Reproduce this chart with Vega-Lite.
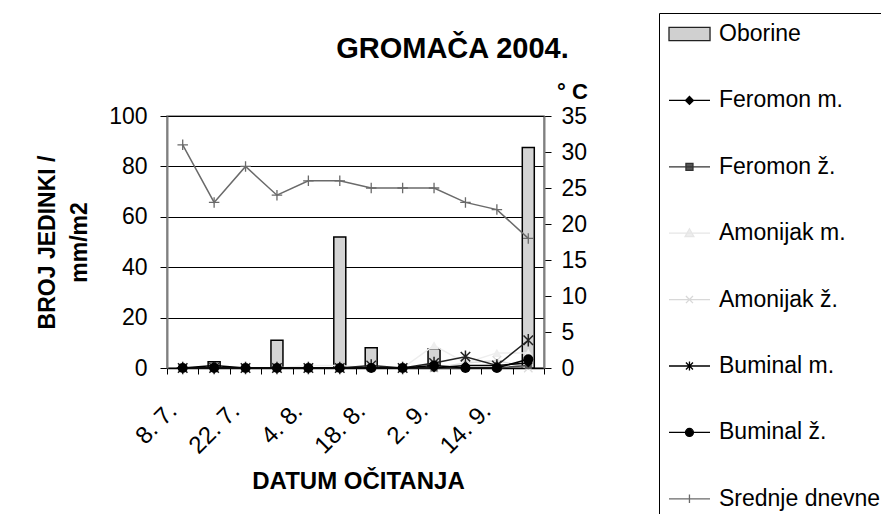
{
  "$schema": "https://vega.github.io/schema/vega-lite/v6.json",
  "autosize": "none",
  "width": 377,
  "height": 252,
  "padding": {"left": 167, "top": 116, "right": 337, "bottom": 146},
  "background": "white",
  "title": {"text": "GROMAČA 2004.", "fontSize": 29, "fontWeight": "bold", "color": "black", "anchor": "middle", "frame": "group", "dx": 97, "offset": 0, "baseline": "alphabetic", "dy": 74},
  "data": {"values": [
    {"dan": "8. 7.", "oborine": 0, "feromon_m": 0, "feromon_z": 0, "amonijak_m": 0, "amonijak_z": 0, "buminal_m": 0, "buminal_z": 0, "temp": 31},
    {"dan": "15. 7.", "oborine": 2.5, "feromon_m": 1, "feromon_z": 0, "amonijak_m": 0, "amonijak_z": 0, "buminal_m": 0, "buminal_z": 0, "temp": 23},
    {"dan": "22. 7.", "oborine": 0, "feromon_m": 0, "feromon_z": 0, "amonijak_m": 0, "amonijak_z": 0, "buminal_m": 0, "buminal_z": 0, "temp": 28},
    {"dan": "28. 7.", "oborine": 11, "feromon_m": 0, "feromon_z": 0, "amonijak_m": 0, "amonijak_z": 0, "buminal_m": 0, "buminal_z": 0, "temp": 24},
    {"dan": "4. 8.", "oborine": 0, "feromon_m": 0, "feromon_z": 0, "amonijak_m": 1, "amonijak_z": 0, "buminal_m": 0, "buminal_z": 0, "temp": 26},
    {"dan": "11. 8.", "oborine": 52, "feromon_m": 0, "feromon_z": 0, "amonijak_m": 1, "amonijak_z": 0, "buminal_m": 0, "buminal_z": 0, "temp": 26},
    {"dan": "18. 8.", "oborine": 8, "feromon_m": 0, "feromon_z": 0, "amonijak_m": 0, "amonijak_z": 0, "buminal_m": 1, "buminal_z": 0, "temp": 25},
    {"dan": "25. 8.", "oborine": 0, "feromon_m": 0, "feromon_z": 0, "amonijak_m": 0, "amonijak_z": 0, "buminal_m": 0, "buminal_z": 0, "temp": 25},
    {"dan": "2. 9.", "oborine": 7.5, "feromon_m": 0, "feromon_z": 0, "amonijak_m": 9, "amonijak_z": 0, "buminal_m": 2, "buminal_z": 1, "temp": 25},
    {"dan": "8. 9.", "oborine": 0, "feromon_m": 1, "feromon_z": 0, "amonijak_m": 2, "amonijak_z": 2, "buminal_m": 4.5, "buminal_z": 0, "temp": 23},
    {"dan": "14. 9.", "oborine": 0, "feromon_m": 1, "feromon_z": 0, "amonijak_m": 6, "amonijak_z": 3, "buminal_m": 1, "buminal_z": 0, "temp": 22},
    {"dan": "21. 9.", "oborine": 87.5, "feromon_m": 2, "feromon_z": 1, "amonijak_m": 6, "amonijak_z": 0, "buminal_m": 11, "buminal_z": 3.5, "temp": 18}
  ]},
  "layer": [
    {
      "layer": [
        {
          "mark": {"type": "bar", "fill": "#d4d4d4", "stroke": "black", "strokeWidth": 1.5, "size": 12},
          "encoding": {
            "x": {"field": "dan", "type": "ordinal", "sort": null,
              "scale": {"paddingInner": 0, "paddingOuter": 0},
              "axis": {"title": "DATUM OČITANJA", "titleFontSize": 24, "titleFontWeight": "bold", "titleX": 191, "titleY": 120, "titleAlign": "center", "titleBaseline": "alphabetic",
                "labelAngle": -45, "labelAlign": "right", "labelBaseline": "middle", "labelFontSize": 24, "labelPadding": 33, "labelOffset": -10,
                "labelExpr": "indexof(['8. 7.','22. 7.','4. 8.','18. 8.','2. 9.','14. 9.'], datum.value) >= 0 ? datum.value : ''",
                "labelOverlap": false, "labelBound": false, "tickBand": "extent", "tickSize": 6, "tickColor": "black", "domainColor": "black", "domainWidth": 1.5, "grid": false}},
            "y": {"field": "oborine", "type": "quantitative", "scale": {"domain": [0, 100]},
              "axis": {"title": ["BROJ JEDINKI /", "mm/m2"], "titleFontSize": 23, "titleFontWeight": "bold", "titleAngle": 270, "titleX": -113, "titleY": 126, "titleAlign": "center", "titleBaseline": "alphabetic", "titleLineHeight": 32,
                "values": [0, 20, 40, 60, 80, 100], "labelFontSize": 23, "labelPadding": 13, "tickSize": 7, "tickColor": "black", "domainColor": "#808080", "domainWidth": 2, "grid": true, "gridColor": "black", "gridWidth": 1}}
          }
        },
        {
          "mark": {"type": "line", "color": "#eeeeee", "strokeWidth": 1.5, "point": {"shape": "triangle-up", "filled": true, "fill": "#eeeeee", "size": 90}},
          "encoding": {"x": {"field": "dan", "type": "ordinal", "sort": null}, "y": {"field": "amonijak_m", "type": "quantitative"}}
        },
        {
          "mark": {"type": "line", "color": "#dddddd", "strokeWidth": 1.5, "point": {"shape": "M-1,-1L1,1M-1,1L1,-1", "filled": false, "stroke": "#dddddd", "strokeWidth": 1.3, "size": 70}},
          "encoding": {"x": {"field": "dan", "type": "ordinal", "sort": null}, "y": {"field": "amonijak_z", "type": "quantitative"}}
        },
        {
          "mark": {"type": "line", "color": "#444444", "strokeWidth": 1.5, "point": {"shape": "square", "filled": true, "fill": "#555555", "size": 50}},
          "encoding": {"x": {"field": "dan", "type": "ordinal", "sort": null}, "y": {"field": "feromon_z", "type": "quantitative"}}
        },
        {
          "mark": {"type": "line", "color": "black", "strokeWidth": 1.5, "point": {"shape": "diamond", "filled": true, "fill": "black", "size": 80}},
          "encoding": {"x": {"field": "dan", "type": "ordinal", "sort": null}, "y": {"field": "feromon_m", "type": "quantitative"}}
        },
        {
          "mark": {"type": "line", "color": "#222222", "strokeWidth": 1.5, "point": {"shape": "M-1,-1L1,1M-1,1L1,-1M0,-1.3V1.3", "filled": false, "stroke": "#222222", "strokeWidth": 1.5, "size": 90}},
          "encoding": {"x": {"field": "dan", "type": "ordinal", "sort": null}, "y": {"field": "buminal_m", "type": "quantitative"}}
        },
        {
          "mark": {"type": "line", "color": "black", "strokeWidth": 1.5, "point": {"shape": "circle", "filled": true, "fill": "black", "size": 100}},
          "encoding": {"x": {"field": "dan", "type": "ordinal", "sort": null}, "y": {"field": "buminal_z", "type": "quantitative"}}
        }
      ]
    },
    {
      "mark": {"type": "line", "color": "#6a6a6a", "strokeWidth": 1.5, "point": {"shape": "M-1,0H1M0,-1V1", "filled": false, "stroke": "#6a6a6a", "strokeWidth": 1.3, "size": 110}},
      "encoding": {
        "x": {"field": "dan", "type": "ordinal", "sort": null},
        "y": {"field": "temp", "type": "quantitative", "scale": {"domain": [0, 35]},
          "axis": {"orient": "right", "title": "° C", "titleAngle": 0, "titleX": 28, "titleY": -18, "titleAlign": "center", "titleBaseline": "alphabetic", "titleFontSize": 22, "titleFontWeight": "bold",
            "values": [0, 5, 10, 15, 20, 25, 30, 35], "labelFontSize": 23, "labelPadding": 10, "tickSize": 7, "tickColor": "black", "domainColor": "#808080", "domainWidth": 2, "grid": false}}
      }
    },
    {
      "data": {"values": [
        {"series": "Oborine"}, {"series": "Feromon m."}, {"series": "Feromon ž."}, {"series": "Amonijak m."},
        {"series": "Amonijak ž."}, {"series": "Buminal m."}, {"series": "Buminal ž."}, {"series": "Srednje dnevne"}
      ]},
      "transform": [{"filter": "datum.series == 'nothing'"}],
      "mark": {"type": "point", "opacity": 1},
      "encoding": {
        "shape": {"field": "series", "type": "nominal",
          "scale": {"domain": ["Oborine", "Feromon m.", "Feromon ž.", "Amonijak m.", "Amonijak ž.", "Buminal m.", "Buminal ž.", "Srednje dnevne"],
            "range": [
              "M-1,-0.6H2.73V0.6H-1Z",
              "M-1,0H2.73M0.86,-0.36L1.22,0L0.86,0.36L0.5,0Z",
              "M-1,0H2.73M0.54,-0.32H1.18V0.32H0.54Z",
              "M-1,0H2.73M0.86,-0.4L1.26,0.3H0.46Z",
              "M-1,0H2.73M0.54,-0.32L1.18,0.32M0.54,0.32L1.18,-0.32",
              "M-1,0H2.73M0.54,-0.32L1.18,0.32M0.54,0.32L1.18,-0.32M0.86,-0.42V0.42",
              "M-1,0H2.73M1.22,0A0.36,0.36 0 1 1 0.5,0A0.36,0.36 0 1 1 1.22,0Z",
              "M-1,0H2.73M0.86,-0.38V0.38"
            ]},
          "legend": {"title": null, "orient": "none", "legendX": 492, "legendY": -103, "padding": 9, "strokeColor": "black", "fillColor": "white", "symbolSize": 484, "symbolStrokeWidth": 1.3, "symbolOpacity": 1, "labelFontSize": 23, "labelColor": "black", "labelOffset": 27, "rowPadding": 42.4, "labelLimit": 400, "direction": "vertical"}},
        "fill": {"field": "series", "type": "nominal",
          "scale": {"domain": ["Oborine", "Feromon m.", "Feromon ž.", "Amonijak m.", "Amonijak ž.", "Buminal m.", "Buminal ž.", "Srednje dnevne"],
            "range": ["#d0d0d0", "black", "#555555", "#eeeeee", "transparent", "transparent", "black", "transparent"]},
          "legend": {"title": null, "orient": "none", "legendX": 492, "legendY": -103, "padding": 9, "strokeColor": "black", "fillColor": "white", "symbolSize": 484, "symbolStrokeWidth": 1.3, "symbolOpacity": 1, "labelFontSize": 23, "labelColor": "black", "labelOffset": 27, "rowPadding": 42.4, "labelLimit": 400, "direction": "vertical"}},
        "stroke": {"field": "series", "type": "nominal",
          "scale": {"domain": ["Oborine", "Feromon m.", "Feromon ž.", "Amonijak m.", "Amonijak ž.", "Buminal m.", "Buminal ž.", "Srednje dnevne"],
            "range": ["#222222", "black", "#333333", "#e6e6e6", "#d8d8d8", "black", "black", "#6a6a6a"]},
          "legend": {"title": null, "orient": "none", "legendX": 492, "legendY": -103, "padding": 9, "strokeColor": "black", "fillColor": "white", "symbolSize": 484, "symbolStrokeWidth": 1.3, "symbolOpacity": 1, "labelFontSize": 23, "labelColor": "black", "labelOffset": 27, "rowPadding": 42.4, "labelLimit": 400, "direction": "vertical"}}
      }
    }
  ],
  "resolve": {"scale": {"y": "independent"}},
  "config": {
    "font": "Liberation Sans",
    "view": {"fill": "#c0c0c0", "stroke": "#808080", "strokeWidth": 1.5},
    "axis": {"labelColor": "black", "titleColor": "black", "labelFont": "Liberation Sans", "titleFont": "Liberation Sans"},
    "legend": {"labelFont": "Liberation Sans"},
    "title": {"font": "Liberation Sans"}
  }
}
